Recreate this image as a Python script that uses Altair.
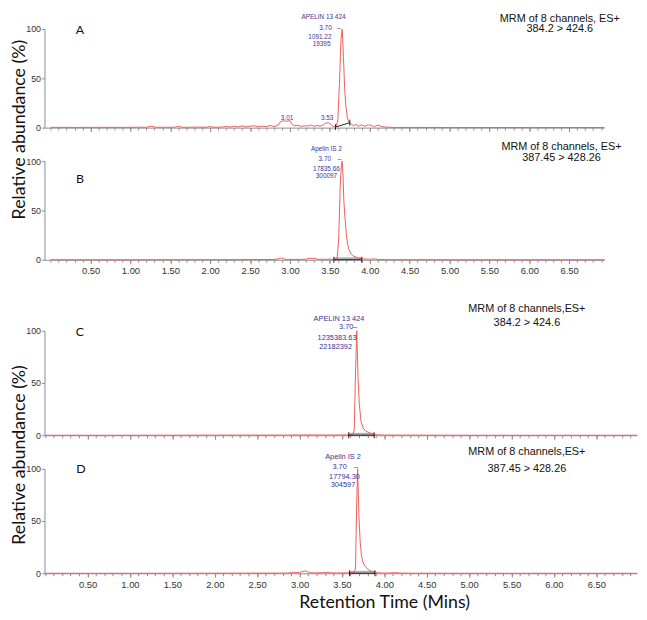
import altair as alt
import pandas as pd

# ---------------- data ----------------
A_TIME = [0.00, 0.30, 0.60, 0.90, 1.10, 1.20, 1.26, 1.32, 1.45, 1.55,
          1.60, 1.66, 1.80, 1.95, 2.00, 2.06, 2.15, 2.20, 2.25, 2.30,
          2.35, 2.40, 2.45, 2.50, 2.55, 2.60, 2.65, 2.70, 2.75, 2.80,
          2.85, 2.88, 2.92, 2.96, 3.00, 3.03, 3.06, 3.10, 3.14, 3.18,
          3.22, 3.26, 3.30, 3.34, 3.38, 3.42, 3.45, 3.48, 3.51, 3.55,
          3.58, 3.60, 3.62, 3.64, 3.655, 3.67, 3.685, 3.70, 3.72, 3.74,
          3.77, 3.80, 3.83, 3.86, 3.90, 3.94, 3.98, 4.02, 4.06, 4.10,
          4.14, 4.18, 4.30, 5.00, 6.00, 6.94]
A_ABUND = [0.3, 0.2, 0.3, 0.2, 0.4, 0.3, 1.5, 0.4, 0.3, 0.4,
           1.2, 0.3, 0.5, 0.4, 1.0, 0.3, 0.6, 1.2, 0.5, 1.5,
           0.6, 1.8, 0.8, 1.4, 1.9, 0.9, 1.6, 1.1, 2.2, 1.0,
           2.5, 6.0, 7.0, 6.5, 7.2, 3.0, 1.8, 2.4, 1.2, 2.0,
           1.5, 2.8, 1.3, 2.2, 1.6, 3.0, 4.5, 5.0, 3.2, 0.8,
           1.5, 8.0, 45.0, 90.0, 100.0, 72.0, 40.0, 22.0, 10.0, 5.0,
           3.5, 2.0, 3.2, 1.5, 2.8, 1.2, 3.0, 2.2, 1.0, 2.5,
           1.4, 0.6, 0.2, 0.1, 0.1, 0.1]

B_TIME = [0.00, 1.00, 2.00, 2.70, 2.80, 2.85, 2.88, 2.91, 2.95, 3.05,
          3.15, 3.20, 3.25, 3.30, 3.35, 3.45, 3.50, 3.55, 3.59, 3.61,
          3.63, 3.645, 3.655, 3.665, 3.675, 3.69, 3.705, 3.72, 3.74, 3.77,
          3.80, 3.85, 3.90, 4.00, 4.05, 4.10, 4.20, 5.00, 6.00, 6.94]
B_ABUND = [0.0, 0.0, 0.1, 0.2, 0.3, 0.8, 1.8, 1.2, 0.4, 0.3,
           0.4, 0.6, 1.5, 1.4, 0.5, 0.4, 0.6, 0.3, 0.8, 20.0,
           75.0, 97.0, 100.0, 85.0, 60.0, 42.0, 27.0, 17.0, 10.0, 5.5,
           3.5, 2.0, 1.0, 0.5, 0.9, 0.4, 0.1, 0.0, 0.0, 0.0]

C_TIME = [0.00, 1.00, 2.00, 2.90, 2.95, 3.00, 3.10, 3.30, 3.50, 3.60,
          3.63, 3.645, 3.66, 3.675, 3.69, 3.705, 3.725, 3.75, 3.78, 3.82,
          3.86, 3.90, 4.00, 5.00, 6.00, 6.98]
C_ABUND = [0.0, 0.0, 0.1, 0.2, 0.4, 0.2, 0.3, 0.2, 0.3, 0.3,
           1.0, 5.0, 60.0, 100.0, 55.0, 30.0, 13.0, 7.0, 4.0, 2.5,
           1.2, 0.5, 0.2, 0.0, 0.0, 0.0]

D_TIME = [0.00, 1.00, 2.00, 2.85, 2.90, 2.93, 2.96, 3.00, 3.03, 3.06,
          3.09, 3.13, 3.20, 3.28, 3.32, 3.36, 3.45, 3.55, 3.62, 3.645,
          3.66, 3.675, 3.685, 3.70, 3.715, 3.73, 3.75, 3.78, 3.82, 3.86,
          3.90, 3.95, 4.05, 4.10, 4.15, 4.20, 4.30, 5.00, 6.00, 6.98]
D_ABUND = [0.0, 0.0, 0.1, 0.2, 0.5, 1.0, 0.6, 0.8, 1.5, 2.4,
           1.6, 0.5, 0.4, 0.5, 0.9, 0.4, 0.3, 0.4, 0.3, 0.6,
           5.0, 70.0, 100.0, 55.0, 30.0, 17.0, 10.0, 6.0, 3.0, 1.5,
           0.8, 0.3, 0.2, 0.6, 0.5, 0.2, 0.1, 0.0, 0.0, 0.0]

# integration baseline markers (start / end)
MARK_A_T = [3.57, 3.75]
MARK_A_Y = [0.5, 5.0]
MARK_B_T = [3.55, 3.90]
MARK_C_T = [3.58, 3.88]
MARK_D_T = [3.59, 3.89]

# peak annotations
ANN_A_TXT = ["APELIN 13 424", "3.70", "–", "1091.22", "19395", "3.01", "3.53"]
ANN_A_T = [3.42, 3.445, 3.612, 3.375, 3.396, 2.963, 3.466]
ANN_A_Y = [112.0, 101.0, 101.0, 92.0, 84.5, 10.0, 10.0]

ANN_B_TXT = ["Apelin IS 2", "3.70", "–", "17835.66", "300097"]
ANN_B_T = [3.457, 3.436, 3.622, 3.457, 3.457]
ANN_B_Y = [112.0, 102.0, 102.0, 92.0, 84.5]

ANN_C_TXT = ["APELIN 13 424", "3.70", "–", "1235383.63", "22182392"]
ANN_C_T = [3.465, 3.55, 3.655, 3.442, 3.426]
ANN_C_Y = [111.5, 103.8, 103.8, 93.0, 84.5]

ANN_D_TXT = ["Apelin IS 2", "3.70", "–", "17794.30", "304597"]
ANN_D_T = [3.512, 3.472, 3.666, 3.53, 3.512]
ANN_D_Y = [111.0, 101.9, 101.9, 92.5, 84.0]

MRM_A_TXT = ["MRM of 8 channels, ES+", "384.2 > 424.6"]
MRM_A_T = [6.383, 6.383]
MRM_A_Y = [110.5, 99.5]
MRM_B_TXT = ["MRM of 8 channels, ES+", "387.45 > 428.26"]
MRM_B_T = [6.403, 6.403]
MRM_B_Y = [114.0, 103.0]
MRM_C_TXT = ["MRM of 8 channels,ES+", "384.2 > 424.6"]
MRM_C_T = [5.681, 5.681]
MRM_C_Y = [120.5, 107.8]
MRM_D_TXT = ["MRM of 8 channels,ES+", "387.45 > 428.26"]
MRM_D_T = [5.681, 5.681]
MRM_D_Y = [116.0, 99.3]

LETTERS = ["A", "B", "C", "D"]
LETTER_T = [0.367, 0.367, 0.41, 0.422]
LETTER_Y = [99.0, 82.0, 99.0, 99.3]

X_LABEL_TICKS = [0.5, 1.0, 1.5, 2.0, 2.5, 3.0, 3.5, 4.0, 4.5, 5.0, 5.5, 6.0, 6.5]
X_MINOR_TICKS = [round(0.1 * i, 1) for i in range(0, 70)]
Y_TICKS = [0, 50, 100]

Y_TITLE = "Relative abundance (%)"
X_TITLE = "Retention Time (Mins)"

# ---------------- styling ----------------
RED = "#ee5c5c"
BLUE = "#35359a"
AXC = "#8c8c8c"
AX_FONT = "Liberation Sans"
TITLE_FONT = "Lato"

TOP_W, TOP_H = 568, 100
BOT_W, BOT_H = 601, 106
TOP_DOM = [-0.078, 6.943]
BOT_DOM = [-0.008, 6.98]


def major_axis(show_labels):
    kw = dict(values=X_LABEL_TICKS, orient="bottom", tickSize=4, tickColor=AXC, domainColor=AXC,
              grid=False, title=None, labelFont=AX_FONT, labelFontSize=9.5,
              labelColor="#333333", labelPadding=2, labelOverlap=False, labelFlush=False,
              format=".2f")
    if not show_labels:
        kw["labels"] = False
    return alt.Axis(**kw)


def minor_axis():
    return alt.Axis(values=X_MINOR_TICKS, orient="bottom", tickSize=2.5, tickColor=AXC,
                    domain=False, grid=False, labels=False, title=None)


def y_axis():
    return alt.Axis(values=Y_TICKS, tickSize=3, tickColor=AXC, domainColor=AXC, grid=False,
                    title=None, labelFont=AX_FONT, labelFontSize=9, labelColor="#333333",
                    labelPadding=1)


def panel(times, abund, w, h, dom, show_labels, letter, lt, ly,
          ann_t, ann_y, ann_txt, ann_size, mrm_t, mrm_y, mrm_txt,
          mk_t, mk_y, shade, ytitle=None, ytitle_pos=None, xtitle=None, xtitle_pos=None):
    xs = alt.Scale(domain=dom, nice=False, zero=False)
    ys = alt.Scale(domain=[0, 100], nice=False, zero=False)
    X = alt.X("t:Q", scale=xs, axis=None)
    Y = alt.Y("a:Q", scale=ys)
    layers = []
    tr = pd.DataFrame({"t": times, "a": abund})
    mk = pd.DataFrame({"t": mk_t, "a": mk_y})
    if shade:
        sh = pd.DataFrame({"t": [mk_t[0]], "t2": [mk_t[1]], "a": [0.0]})
        layers.append(alt.Chart(sh).mark_rule(color="#9a9a9a", strokeWidth=2.5, yOffset=-1.2,
                                              opacity=0.8)
                      .encode(x=X, x2="t2:Q", y=Y))
    layers.append(alt.Chart(tr).mark_line(color=RED, strokeWidth=1).encode(
        x=alt.X("t:Q", scale=xs, axis=major_axis(show_labels)),
        y=alt.Y("a:Q", scale=ys, axis=y_axis())))
    layers.append(alt.Chart(mk).mark_line(color="#222222", strokeWidth=1).encode(
        x=alt.X("t:Q", scale=xs, axis=minor_axis()), y=Y))
    layers.append(alt.Chart(mk).mark_point(shape="M0,-1L0,1", size=36, color="#222222",
                                           strokeWidth=1, filled=False, opacity=1)
                  .encode(x=X, y=Y))
    ann = pd.DataFrame({"t": ann_t, "a": ann_y, "s": ann_txt})
    layers.append(alt.Chart(ann).mark_text(font=AX_FONT, fontSize=ann_size, color=BLUE,
                                           align="center", baseline="middle")
                  .encode(x=X, y=Y, text="s:N"))
    mr = pd.DataFrame({"t": mrm_t, "a": mrm_y, "s": mrm_txt})
    layers.append(alt.Chart(mr).mark_text(font=AX_FONT, fontSize=11, color="#111111",
                                          align="center", baseline="middle")
                  .encode(x=X, y=Y, text="s:N"))
    lt_df = pd.DataFrame({"t": [lt], "a": [ly], "s": [letter]})
    layers.append(alt.Chart(lt_df).mark_text(font=TITLE_FONT, fontSize=12.5, color="#111111",
                                             align="center", baseline="middle")
                  .encode(x=X, y=Y, text="s:N"))
    if ytitle:
        yt = pd.DataFrame({"s": [ytitle]})
        layers.append(alt.Chart(yt).mark_text(font=TITLE_FONT, fontSize=18, color="#111111",
                                              angle=270, align="center", baseline="middle")
                      .encode(x=alt.value(ytitle_pos[0]), y=alt.value(ytitle_pos[1]),
                              text="s:N"))
    if xtitle:
        xt = pd.DataFrame({"s": [xtitle]})
        layers.append(alt.Chart(xt).mark_text(font=TITLE_FONT, fontSize=18, color="#111111",
                                              align="center", baseline="alphabetic")
                      .encode(x=alt.value(xtitle_pos[0]), y=alt.value(xtitle_pos[1]),
                              text="s:N"))
    return alt.layer(*layers).resolve_axis(x="independent").properties(width=w, height=h)


pA = panel(A_TIME, A_ABUND, TOP_W, TOP_H, TOP_DOM, False,
           LETTERS[0], LETTER_T[0], LETTER_Y[0], ANN_A_T, ANN_A_Y, ANN_A_TXT, 6.5,
           MRM_A_T, MRM_A_Y, MRM_A_TXT, MARK_A_T, MARK_A_Y, False,
           ytitle=Y_TITLE, ytitle_pos=(-25, 102))
pB = panel(B_TIME, B_ABUND, TOP_W, TOP_H, TOP_DOM, True,
           LETTERS[1], LETTER_T[1], LETTER_Y[1], ANN_B_T, ANN_B_Y, ANN_B_TXT, 6.5,
           MRM_B_T, MRM_B_Y, MRM_B_TXT, MARK_B_T, [0.0, 0.0], True)
pC = panel(C_TIME, C_ABUND, BOT_W, BOT_H, BOT_DOM, False,
           LETTERS[2], LETTER_T[2], LETTER_Y[2], ANN_C_T, ANN_C_Y, ANN_C_TXT, 7.5,
           MRM_C_T, MRM_C_Y, MRM_C_TXT, MARK_C_T, [0.0, 0.0], True,
           ytitle=Y_TITLE, ytitle_pos=(-25, 126))
pD = panel(D_TIME, D_ABUND, BOT_W, BOT_H, BOT_DOM, True,
           LETTERS[3], LETTER_T[3], LETTER_Y[3], ANN_D_T, ANN_D_Y, ANN_D_TXT, 7.5,
           MRM_D_T, MRM_D_Y, MRM_D_TXT, MARK_D_T, [0.0, 0.0], True,
           xtitle=X_TITLE, xtitle_pos=(345, 141))

spacer = alt.Chart(pd.DataFrame({"t": [0.0], "a": [0.0]})).mark_point(opacity=0).encode(
    x=alt.X("t:Q", axis=None), y=alt.Y("a:Q", axis=None)).properties(width=10, height=4)

chart = alt.vconcat(pA, pB, spacer, pC, pD, spacing=34, bounds="flush").properties(
    padding={"left": 2, "top": 0, "right": 0, "bottom": 0}
).configure_view(stroke=None)

chart.save("out.html", embed_options={"renderer": "svg", "actions": False})
